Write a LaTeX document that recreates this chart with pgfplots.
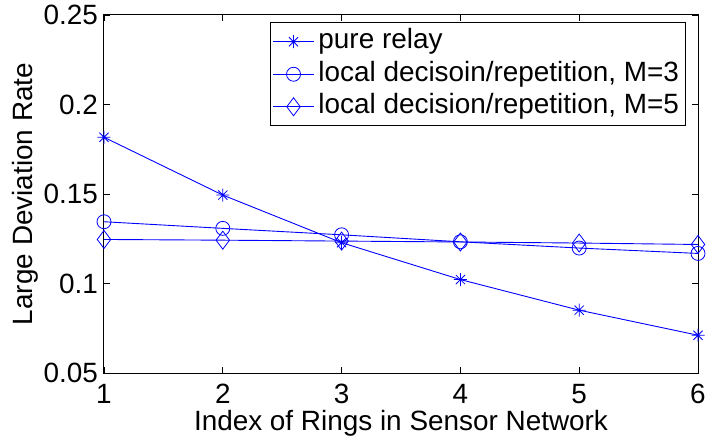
\documentclass[border=0pt]{standalone}
\usepackage{fontspec}
\setmainfont{Liberation Sans}
\usepackage{pgfplots}
\pgfplotsset{compat=1.18}

% eight-armed asterisk marker
\pgfdeclareplotmark{mstar}{%
  \pgfpathmoveto{\pgfqpoint{0pt}{\pgfplotmarksize}}%
  \pgfpathlineto{\pgfqpoint{0pt}{-\pgfplotmarksize}}%
  \pgfpathmoveto{\pgfqpoint{\pgfplotmarksize}{0pt}}%
  \pgfpathlineto{\pgfqpoint{-\pgfplotmarksize}{0pt}}%
  \pgfpathmoveto{\pgfqpoint{.707\pgfplotmarksize}{.707\pgfplotmarksize}}%
  \pgfpathlineto{\pgfqpoint{-.707\pgfplotmarksize}{-.707\pgfplotmarksize}}%
  \pgfpathmoveto{\pgfqpoint{.707\pgfplotmarksize}{-.707\pgfplotmarksize}}%
  \pgfpathlineto{\pgfqpoint{-.707\pgfplotmarksize}{.707\pgfplotmarksize}}%
  \pgfusepathqstroke}

\begin{document}
\begin{tikzpicture}[font=\fontsize{28}{34}\selectfont]
\begin{axis}[
  scale only axis,
  width=594bp, height=358bp,
  xmin=1, xmax=6, ymin=0.05, ymax=0.25,
  xtick={1,2,3,4,5,6},
  ytick={0.05,0.1,0.15,0.2,0.25},
  yticklabels={0.05,0.1,0.15,0.2,0.25},
  xticklabels={1,2,3,4,5,6},
  /pgf/number format/assume math mode=true,
  tick align=inside,
  major tick length=6bp,
  every tick/.style={black, line width=0.8bp},
  axis line style={black, line width=1bp},
  yticklabel style={inner sep=0pt, anchor=east, xshift=-6bp},
  xticklabel style={inner sep=0pt, anchor=base, yshift=-30bp},
  xlabel={Index of Rings in Sensor Network},
  ylabel={Large Deviation Rate},
  every axis x label/.style={at={(axis description cs:0.5,0)}, anchor=base, yshift=-57bp, inner sep=0pt},
  every axis y label/.style={at={(axis description cs:0,0.5)}, xshift=-71bp, rotate=90, anchor=base, inner sep=0pt},
  clip=false,
  legend cell align=left,
  legend image code/.code={%
    \draw[mark repeat=2, mark phase=2] plot coordinates {(0bp,0bp) (20.5bp,0bp) (41bp,0bp)};},
  legend style={
    at={(1,1)}, anchor=north east, xshift=-12bp, yshift=-7.5bp,
    draw=black, line width=1bp, fill=white,
    inner xsep=2.5bp, inner ysep=2.5bp, row sep=0pt,
    nodes={inner xsep=4bp, inner ysep=3bp, text height=20.5bp, text depth=6bp},
  },
  every axis plot/.append style={blue, line width=0.9bp, mark options={solid, line width=0.8bp}},
]
\addplot[mark=mstar, mark size=6.5bp] coordinates {
  (1,0.1817) (2,0.1494) (3,0.1228) (4,0.1022) (5,0.0851) (6,0.0711)
};
\addlegendentry{pure relay}
\addplot[mark=o, mark size=7bp] coordinates {
  (1,0.1345) (2,0.1308) (3,0.1272) (4,0.1233) (5,0.1198) (6,0.1168)
};
\addlegendentry{local decisoin/repetition, M=3}
\addplot[mark=diamond, mark size=9bp] coordinates {
  (1,0.1246) (2,0.1242) (3,0.1237) (4,0.1232) (5,0.1226) (6,0.1218)
};
\addlegendentry{local decision/repetition, M=5}
\end{axis}
\pgfresetboundingbox
\path (current axis.south west) ++(-104bp,-67bp) rectangle ++(707bp,440bp);
\end{tikzpicture}
\end{document}
